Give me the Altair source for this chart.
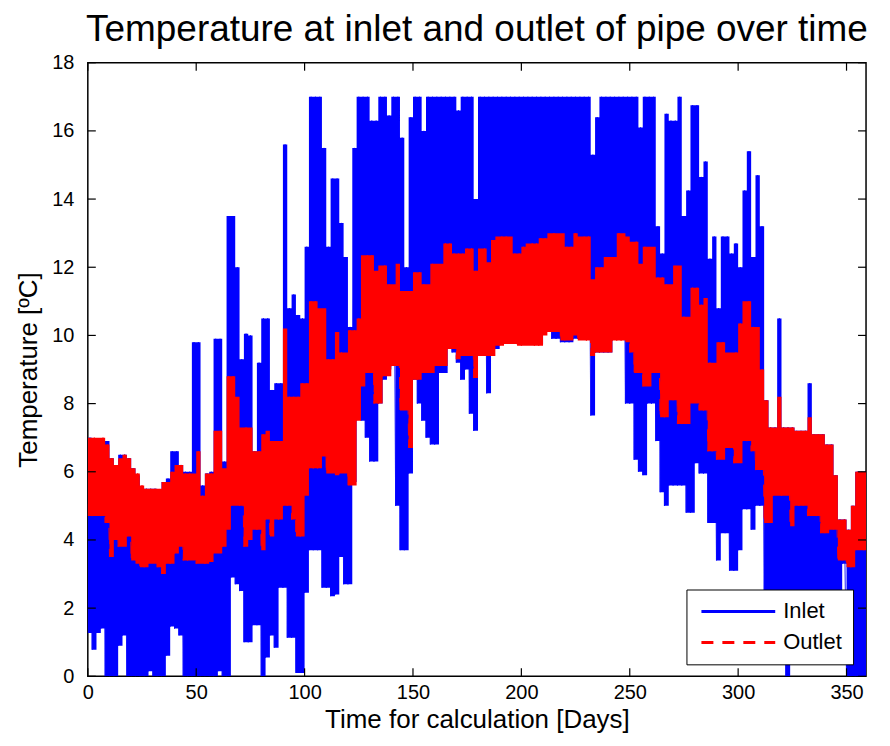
import altair as alt
import pandas as pd

# Each 2-day bin: lowest and highest temperature
bin_days = list(range(0, 360, 2))

inlet_high = [
    7.0, 6.9, 6.9, 6.9, 6.9, 6.4, 5.6, 6.5, 6.5, 6.4,
    6.1, 5.9, 5.5, 5.5, 5.5, 5.5, 5.4, 5.7, 5.8, 6.6,
    6.6, 6.2, 6.0, 6.0, 9.8, 9.8, 5.6, 5.95, 6.0, 9.9,
    9.9, 6.3, 13.5, 13.5, 12.0, 9.3, 10.05, 10.0, 6.6, 9.2,
    10.5, 10.5, 8.4, 8.6, 8.6, 15.6, 10.8, 11.2, 10.6, 10.5,
    12.6, 17.0, 17.0, 17.0, 15.5, 12.6, 14.6, 14.6, 13.3, 12.3,
    10.25, 15.5, 17.0, 17.0, 17.0, 16.3, 16.3, 17.0, 17.0, 16.45,
    17.0, 17.0, 15.8, 12.0, 16.4, 17.0, 17.0, 16.0, 17.0, 17.0,
    17.0, 17.0, 17.0, 17.0, 17.0, 16.6, 17.0, 17.0, 17.0, 14.0,
    17.0, 17.0, 17.0, 17.0, 17.0, 17.0, 17.0, 17.0, 17.0, 17.0,
    17.0, 17.0, 17.0, 17.0, 17.0, 17.0, 17.0, 17.0, 17.0, 17.0,
    17.0, 17.0, 17.0, 17.0, 17.0, 17.0, 15.3, 16.4, 17.0, 17.0,
    17.0, 17.0, 17.0, 17.0, 17.0, 17.0, 17.0, 16.1, 17.0, 17.0,
    17.0, 13.2, 12.4, 16.5, 16.3, 16.3, 17.0, 13.5, 14.25, 16.75,
    16.75, 14.65, 15.1, 12.25, 12.9, 10.8, 12.9, 12.9, 12.4, 12.7,
    12.0, 14.25, 15.4, 12.3, 14.7, 13.2, 8.1, 7.3, 7.3, 10.5,
    7.3, 7.3, 7.3, 7.2, 7.2, 7.2, 8.6, 7.1, 7.1, 7.1,
    6.8, 6.8, 5.9, 4.6, 4.6, 4.3, 5.0, 6.0, 6.0, 6.0,
]

inlet_low = [
    1.27, 0.78, 1.27, 1.4, 0.0, 0.0, 0.0, 0.9, 1.2, 0.0,
    0.0, 0.0, 0.0, 0.0, 0.15, 0.0, 0.0, 0.0, 0.6, 1.46,
    1.4, 1.2, 0.0, 0.0, 0.0, 0.0, 0.0, 0.0, 0.0, 0.0,
    0.15, 0.0, 0.0, 2.9, 2.7, 2.5, 1.0, 1.0, 1.5, 1.5,
    0.0, 0.55, 1.2, 0.84, 2.6, 2.6, 1.13, 1.13, 0.1, 0.1,
    2.45, 3.7, 3.7, 3.7, 2.6, 2.6, 2.35, 2.4, 3.5, 2.7,
    2.7, 5.7, 8.0, 7.5, 7.0, 6.3, 6.3, 8.0, 8.7, 9.0,
    9.1, 5.0, 3.7, 3.7, 5.95, 8.7, 8.0, 7.5, 7.0, 6.8,
    6.8, 8.9, 8.9, 9.6, 9.5, 9.2, 8.7, 9.0, 7.7, 7.2,
    9.4, 9.4, 8.3, 9.6, 9.6, 9.9, 9.75, 9.75, 9.75, 9.75,
    9.75, 9.75, 9.75, 9.75, 9.75, 10.1, 10.1, 9.9, 9.9, 9.8,
    9.8, 9.8, 9.9, 9.9, 9.9, 9.9, 7.65, 9.5, 9.5, 9.5,
    9.5, 10.0, 10.0, 10.0, 8.0, 8.0, 6.35, 6.0, 5.9, 8.0,
    8.0, 6.9, 5.4, 5.0, 5.6, 5.6, 5.6, 5.6, 4.8, 4.8,
    6.25, 5.95, 5.95, 4.5, 4.5, 3.4, 4.2, 4.2, 3.1, 3.1,
    3.7, 4.9, 4.9, 4.3, 5.0, 5.0, 2.0, 1.0, 0.5, 1.5,
    0.8, 0.0, 1.0, 1.2, 0.8, 1.5, 1.0, 1.0, 0.5, 0.8,
    0.5, 1.0, 0.5, 0.5, 3.3, 0.0, 0.0, 0.0, 0.0, 0.0,
]

outlet_high = [
    7.0, 7.0, 7.0, 7.0, 6.8, 6.4, 6.2, 6.4, 6.5, 6.4,
    6.1, 5.95, 5.6, 5.5, 5.5, 5.5, 5.5, 5.7, 5.7, 6.0,
    6.2, 6.2, 5.95, 5.95, 5.95, 6.6, 5.3, 5.95, 5.95, 7.2,
    7.2, 6.1, 8.8, 8.8, 8.2, 7.3, 7.3, 7.3, 6.6, 6.6,
    7.1, 7.2, 6.9, 6.9, 6.9, 10.2, 8.2, 8.2, 8.2, 8.6,
    8.6, 11.0, 11.0, 10.8, 10.8, 9.3, 9.3, 10.1, 9.5, 9.5,
    10.15, 10.15, 10.5, 12.35, 12.35, 12.35, 11.9, 12.05, 12.05, 11.5,
    11.5, 12.1, 11.3, 11.3, 11.3, 11.85, 11.85, 11.5, 11.5, 12.1,
    12.1, 12.1, 12.7, 12.7, 12.4, 12.4, 12.4, 12.55, 12.55, 11.9,
    12.55, 12.55, 12.15, 12.8, 12.9, 12.9, 12.9, 12.9, 12.4, 12.4,
    12.6, 12.7, 12.7, 12.7, 12.85, 12.85, 13.0, 13.0, 13.0, 13.0,
    12.6, 12.6, 13.0, 12.9, 12.9, 12.9, 11.65, 12.0, 12.0, 12.3,
    12.3, 12.3, 13.0, 13.0, 12.9, 12.75, 12.75, 12.1, 12.6, 12.6,
    12.6, 11.7, 11.7, 11.5, 11.5, 12.05, 12.05, 10.55, 10.55, 11.4,
    11.4, 10.9, 11.1, 9.2, 9.2, 9.8, 9.8, 9.5, 9.5, 9.5,
    10.35, 11.0, 11.0, 10.25, 10.25, 9.0, 8.1, 7.3, 7.3, 8.2,
    7.3, 7.3, 7.3, 7.2, 7.2, 7.2, 7.6, 7.1, 7.1, 7.1,
    6.8, 6.8, 5.9, 4.6, 4.6, 4.3, 5.0, 6.0, 6.0, 6.0,
]

outlet_low = [
    4.7, 4.7, 4.7, 4.7, 4.5, 3.5, 4.0, 3.8, 3.8, 4.1,
    3.4, 3.3, 3.2, 3.2, 3.3, 3.3, 3.2, 3.0, 3.3, 3.3,
    3.6, 3.8, 3.4, 3.4, 3.4, 3.3, 3.3, 3.3, 3.35, 3.6,
    3.6, 3.8, 4.3, 5.0, 5.0, 5.0, 3.8, 4.0, 4.3, 4.3,
    3.7, 4.6, 4.1, 4.6, 4.6, 5.0, 5.0, 4.6, 4.1, 4.1,
    5.3, 6.1, 6.1, 6.1, 6.45, 5.95, 5.95, 5.9, 5.95, 5.95,
    5.6, 5.6, 7.5, 8.5, 8.9, 8.9, 8.0, 8.0, 8.8, 8.8,
    9.1, 9.1, 7.8, 7.8, 6.7, 8.7, 8.7, 8.9, 8.9, 8.9,
    9.1, 9.1, 9.1, 9.6, 9.6, 9.3, 9.4, 9.4, 9.4, 8.75,
    9.4, 9.4, 9.4, 9.4, 9.7, 9.7, 9.75, 9.75, 9.75, 9.7,
    9.7, 9.7, 9.7, 9.7, 9.7, 10.0, 10.1, 10.1, 10.1, 9.85,
    9.85, 9.85, 10.0, 9.85, 9.85, 9.85, 9.4, 9.5, 9.5, 9.5,
    9.5, 9.85, 9.85, 9.85, 9.8, 9.5, 8.9, 8.9, 8.5, 8.5,
    8.9, 8.9, 7.6, 7.6, 8.1, 8.1, 7.4, 7.4, 7.4, 8.0,
    8.0, 7.8, 7.8, 6.6, 6.6, 6.35, 6.35, 6.7, 6.7, 6.25,
    6.25, 6.9, 6.9, 6.6, 6.05, 6.05, 4.5, 4.5, 5.3, 5.3,
    5.3, 5.3, 4.4, 5.0, 5.0, 5.0, 4.7, 4.7, 4.7, 4.2,
    4.2, 4.3, 4.3, 3.4, 3.4, 3.2, 3.2, 3.7, 3.7, 3.7,
]

series_names = ["Inlet", "Outlet"]
series_colors = ["#0000ff", "#ff0000"]
y_ticks = list(range(0, 19, 2))
x_ticks = list(range(0, 351, 50))

FONT = "Liberation Sans, Arial, Helvetica, sans-serif"
W, H = 780, 615


def band(lows, highs, name):
    rows = [{"day": d, "low": lo, "high": hi, "series": name}
            for d, lo, hi in zip(bin_days, lows, highs)]
    # close the last 2-day bin at its right edge
    rows.append({"day": bin_days[-1] + 2, "low": lows[-1], "high": highs[-1], "series": name})
    return pd.DataFrame(rows)


def zigzag(lows, highs, name):
    rows = []
    for d, lo, hi in zip(bin_days, lows, highs):
        rows.append({"day": d, "high": lo, "series": name})
        rows.append({"day": d + 1, "high": hi, "series": name})
    return pd.DataFrame(rows)


x_scale = alt.Scale(domain=[0, 359], nice=False, zero=False)
y_scale = alt.Scale(domain=[0, 18], nice=False)
x_axis = alt.Axis(values=x_ticks, title="Time for calculation [Days]", labelFlush=False)
y_axis = alt.Axis(values=y_ticks, title="Temperature [ºC]", labelFlush=False)
X = alt.X("day:Q", scale=x_scale, axis=x_axis)
Y = alt.Y("high:Q", scale=y_scale, axis=y_axis)

color_enc = alt.Color(
    "series:N",
    scale=alt.Scale(domain=series_names, range=series_colors),
    legend=alt.Legend(title=None),
)
dash_enc = alt.StrokeDash(
    "series:N",
    scale=alt.Scale(domain=series_names, range=[[1, 0], [12, 9]]),
    legend=alt.Legend(title=None),
)


def line_layer(df):
    # the raw min/max zigzag of the series (also carries the legend)
    return alt.Chart(df).mark_line(strokeWidth=1, clip=True).encode(
        x=X, y=Y, color=color_enc, strokeDash=dash_enc
    )


def band_layer(df, colour):
    # the filled min..max band of the series
    return alt.Chart(df).mark_area(
        interpolate="step-after", clip=True, color=colour
    ).encode(x=X, y=Y, y2="low:Q")


inlet_line = line_layer(zigzag(inlet_low, inlet_high, "Inlet"))
inlet_band = band_layer(band(inlet_low, inlet_high, "Inlet"), series_colors[0])
outlet_line = line_layer(zigzag(outlet_low, outlet_high, "Outlet"))
outlet_band = band_layer(band(outlet_low, outlet_high, "Outlet"), series_colors[1])

ytick_df = pd.DataFrame({"high": y_ticks})
xtick_df = pd.DataFrame({"day": x_ticks})
tick_style = dict(color="black", strokeWidth=1.2)
left_ticks = alt.Chart(ytick_df).mark_rule(**tick_style).encode(
    y=Y, x=alt.value(0), x2=alt.value(8)
)
right_ticks = alt.Chart(ytick_df).mark_rule(**tick_style).encode(
    y=Y, x=alt.value(W - 8), x2=alt.value(W)
)
bottom_ticks = alt.Chart(xtick_df).mark_rule(**tick_style).encode(
    x=X, y=alt.value(H - 8), y2=alt.value(H)
)
top_ticks = alt.Chart(xtick_df).mark_rule(**tick_style).encode(
    x=X, y=alt.value(0), y2=alt.value(8)
)

chart = (
    alt.layer(
        inlet_line, inlet_band, outlet_line, outlet_band,
        left_ticks, right_ticks, bottom_ticks, top_ticks,
    )
    .properties(
        width=W,
        height=H,
        title=alt.TitleParams(
            "Temperature at inlet and outlet of pipe over time",
            font=FONT, fontSize=37, fontWeight="normal", color="black",
            anchor="middle", offset=4,
        ),
        padding={"left": 80, "top": 54, "right": 16, "bottom": 64},
        autosize=alt.AutoSizeParams(type="none"),
    )
    .configure_view(stroke="black", strokeWidth=1.5)
    .configure_axis(
        domain=False, ticks=False, grid=False, tickSize=0,
        labelFont=FONT, labelFontSize=20, labelColor="black",
        titleFont=FONT, titleFontSize=26, titleFontWeight="normal", titleColor="black",
    )
    .configure_axisY(labelPadding=14, titlePadding=10)
    .configure_axisX(labelPadding=6, titlePadding=4)
    .configure_legend(
        orient="none", legendX=600, legendY=528,
        padding=11, fillColor="white", strokeColor="black", cornerRadius=0,
        symbolType="M-4,0L4,0", symbolSize=342, symbolStrokeWidth=3,
        symbolOffset=30, labelOffset=34, rowPadding=9,
        labelFont=FONT, labelFontSize=22, labelColor="black",
    )
)

chart.save("out.html", embed_options={"renderer": "svg", "actions": False})
